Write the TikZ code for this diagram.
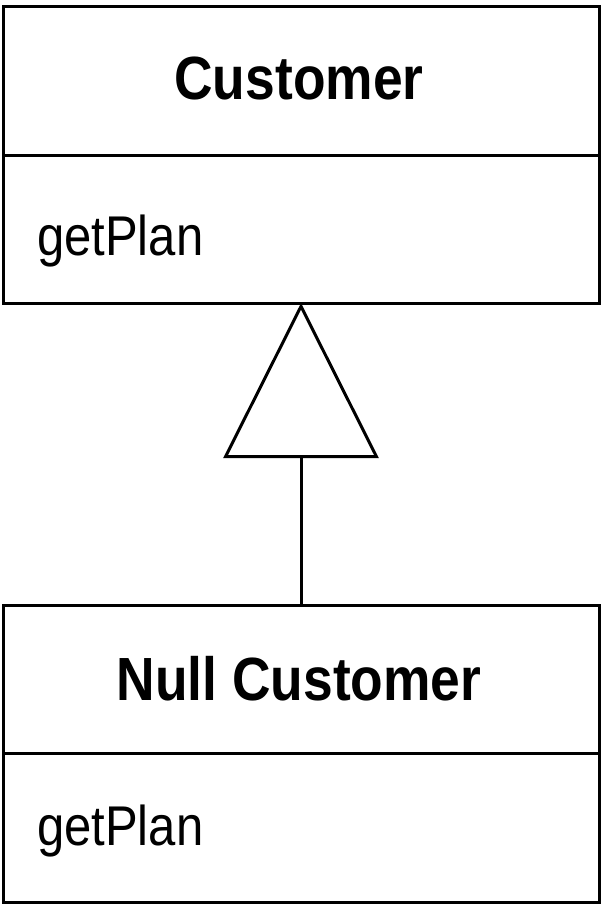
\documentclass[tikz,border=0pt]{standalone}
\usepackage{fontspec}
\setmainfont[FakeStretch=0.875]{Liberation Sans}
\usetikzlibrary{arrows.meta}
\begin{document}
\begin{tikzpicture}[x=1pt,y=-1pt,
  compart/.style={draw,line width=3pt,minimum width=596pt,inner sep=0pt,outer sep=0pt,anchor=north west},
  titletext/.style={font=\fontsize{61}{62}\selectfont\bfseries,anchor=base},
  optext/.style={font=\fontsize{56}{57}\selectfont,anchor=base west,inner sep=0pt},
  inherit/.style={line width=3pt,-{Triangle[open,length=155pt,width=155pt,line join=miter]}}]
\useasboundingbox (0,0) rectangle (604,910);
\node[compart,minimum height=149.5pt] (custname) at (3,6) {};
\node[compart,minimum height=147.5pt] (custops) at (3,155.5) {};
\node[compart,minimum height=148pt] (nullname) at (3,605) {};
\node[compart,minimum height=149pt] (nullops) at (3,753) {};
\node[titletext] (custlabel) at (299,99) {Customer};
\node[optext] (custop) at (37,255) {getPlan};
\node[titletext] (nulllabel) at (299,700) {Null Customer};
\node[optext] (nullop) at (37,845) {getPlan};
\draw[inherit] (nullname.north) -- (custops.south);
\end{tikzpicture}
\end{document}
